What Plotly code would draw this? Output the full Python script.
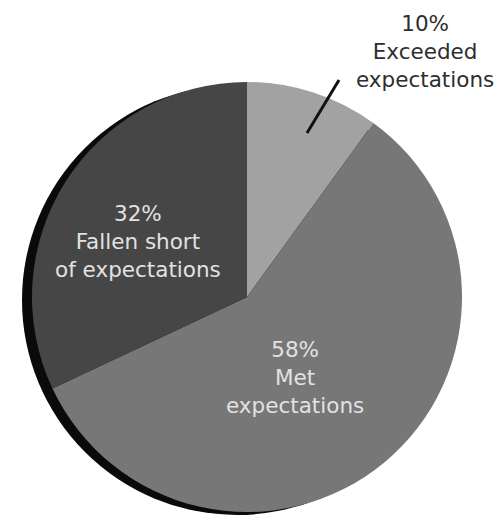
import plotly.graph_objects as go

categories = ["Exceeded expectations", "Met expectations", "Fallen short of expectations"]
values = [10, 58, 32]
label_lines = [["10%", "Exceeded", "expectations"],
               ["58%", "Met", "expectations"],
               ["32%", "Fallen short", "of expectations"]]
colors = ["#a2a2a2", "#777777", "#464646"]

W, H = 501, 515
FONT = "DejaVu Sans"

def px(x0, x1):
    return [x0 / W, x1 / W]

def py(top, bottom):
    return [1 - bottom / H, 1 - top / H]

fig = go.Figure()
# shadow
fig.add_trace(go.Pie(values=[1], labels=["shadow"], marker=dict(colors=["#0a0a0a"], line=dict(width=0)),
                     textinfo="none", hoverinfo="skip", showlegend=False, sort=False,
                     domain=dict(x=px(22, 452), y=py(85, 515))))
fig.add_trace(go.Pie(values=values, labels=categories, marker=dict(colors=colors, line=dict(width=0)),
                     textinfo="none", hoverinfo="label+percent", showlegend=False, sort=False,
                     direction="clockwise", rotation=0,
                     domain=dict(x=px(32, 462), y=py(82, 512))))

# label positions (pixels) and colours
label_pos = [(425, 51), (295, 377), (138, 241)]
label_col = ["#2e2e2e", "#e2e2e2", "#e2e2e2"]
for lines, (x, y), c in zip(label_lines, label_pos, label_col):
    fig.add_annotation(text="<br>".join(lines), x=x / W, y=1 - y / H, xref="paper", yref="paper",
                       showarrow=False, align="center", xanchor="center", yanchor="middle",
                       font=dict(family=FONT, size=21.5, color=c))

# leader line for the outside label
fig.add_shape(type="line", xref="paper", yref="paper",
              x0=339 / W, y0=1 - 80 / H, x1=307 / W, y1=1 - 133 / H,
              line=dict(color="#111111", width=3))

fig.update_layout(width=W, height=H, margin=dict(l=0, r=0, t=0, b=0),
                  paper_bgcolor="white", plot_bgcolor="white")
fig.write_html("out.html")
